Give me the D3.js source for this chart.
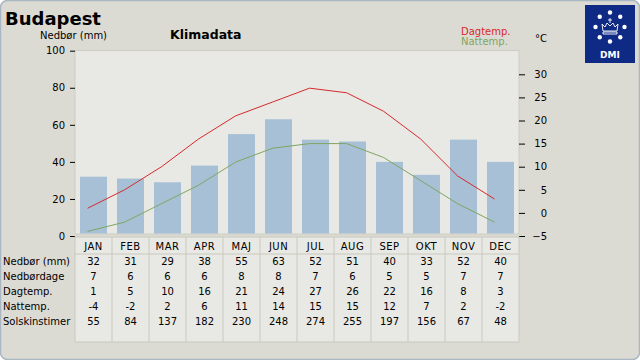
<!DOCTYPE html>
<html><head><meta charset="utf-8">
<script src="https://cdn.jsdelivr.net/npm/d3@7"></script>
<style>
html,body{margin:0;padding:0;background:#fff;}
svg{display:block;font-family:"DejaVu Sans",sans-serif;}
</style></head>
<body>
<script>
const months = ["JAN","FEB","MAR","APR","MAJ","JUN","JUL","AUG","SEP","OKT","NOV","DEC"];
const precip = [32,31,29,38,55,63,52,51,40,33,52,40];
const rainDays = [7,6,6,6,8,8,7,6,5,5,7,7];
const dayTemp = [1,5,10,16,21,24,27,26,22,16,8,3];
const nightTemp = [-4,-2,2,6,11,14,15,15,12,7,2,-2];
const sunHours = [55,84,137,182,230,248,274,255,197,156,67,48];
const leftTicks = [0,20,40,60,80,100];
const rightTicks = [-5,0,5,10,15,20,25,30];
const rowLabels = ["Nedbør (mm)","Nedbørdage","Dagtemp.","Nattemp.","Solskinstimer"];
const rows = [precip, rainDays, dayTemp, nightTemp, sunHours];

const W=640,H=360;
const svg = d3.select("body").append("svg").attr("width",W).attr("height",H);

// frame
svg.append("rect").attr("x",0.5).attr("y",0.5).attr("width",W-1).attr("height",H-1)
  .attr("rx",7).attr("fill","#dcdbd3").attr("stroke","#a9b6c3").attr("stroke-width",1.5);

const L=75,R=519,T=50.5,B=234;
const col = d3.scaleBand().domain(months).range([L,R]).padding(0);
const xb = d3.scaleBand().domain(months).range([L,R]).paddingInner(10/37).paddingOuter(5/37);
const yL = d3.scaleLinear().domain([0,100]).range([236,50.7]);
const yR = d3.scaleLinear().domain([-5,30]).range([236,74.3]);

// plot bg
svg.append("rect").attr("x",L).attr("y",T).attr("width",R-L).attr("height",B-T)
  .attr("fill","#e8e9e4").attr("stroke","#cdcdc4").attr("stroke-width",1);
svg.append("clipPath").attr("id","clip").append("rect")
  .attr("x",L).attr("y",T).attr("width",R-L).attr("height",B-T-0.5);

const g = svg.append("g").attr("clip-path","url(#clip)");
g.selectAll("rect.bar").data(months).join("rect").attr("class","bar")
  .attr("x",d=>xb(d)).attr("width",xb.bandwidth())
  .attr("y",(d,i)=>yL(precip[i])).attr("height",(d,i)=>yL(0)-yL(precip[i]))
  .attr("fill","#a8c0d5");

const lx = d=>col(d)+col.bandwidth()*0.34;
const line = (arr)=>d3.line().x((d,i)=>lx(months[i])).y(d=>yR(d))(arr);
g.append("path").attr("d",line(dayTemp)).attr("fill","none").attr("stroke","#d6292c").attr("stroke-width",1);
g.append("path").attr("d",line(nightTemp)).attr("fill","none").attr("stroke","#7ea563").attr("stroke-width",1);

// axes
const axL = svg.append("g").attr("transform",`translate(${L},0)`)
  .call(d3.axisLeft(yL).tickValues(leftTicks).tickSize(5).tickPadding(5));
const axR = svg.append("g").attr("transform",`translate(${R},0)`)
  .call(d3.axisRight(yR).tickValues(rightTicks).tickSize(6).tickPadding(5));
[axL,axR].forEach(a=>{
  a.select(".domain").remove();
  a.selectAll("line").attr("stroke","#000");
  a.selectAll("text").attr("font-size",10).attr("font-family","DejaVu Sans").attr("fill","#000");
});
axR.selectAll("text").attr("text-anchor","end").attr("x",28);

// table
const tT=237,tB=342,hB=254;
svg.append("rect").attr("x",L).attr("y",tT).attr("width",R-L).attr("height",tB-tT)
  .attr("fill","#e8e9e4").attr("stroke","#c9c9bf");
svg.append("line").attr("x1",L).attr("x2",R).attr("y1",hB).attr("y2",hB).attr("stroke","#c9c9bf");
svg.selectAll("line.vsep").data(months.slice(1)).join("line").attr("class","vsep")
  .attr("x1",d=>col(d)).attr("x2",d=>col(d)).attr("y1",tT).attr("y2",tB).attr("stroke","#c9c9bf");
svg.selectAll("text.mon").data(months).join("text").attr("class","mon")
  .attr("x",d=>col(d)+col.bandwidth()/2).attr("y",250).attr("text-anchor","middle")
  .attr("font-size",10).attr("letter-spacing",0.5).text(d=>d);
rows.forEach((r,ri)=>{
  const y = 265+ri*15;
  svg.append("text").attr("x",3).attr("y",y).attr("font-size",10).text(rowLabels[ri]);
  svg.selectAll(null).data(r).join("text")
    .attr("x",(d,i)=>col(months[i])+col.bandwidth()/2).attr("y",y)
    .attr("text-anchor","middle").attr("font-size",10).text(d=>d);
});

// titles
svg.append("text").attr("x",5).attr("y",25).attr("font-size",18).attr("font-weight","bold").text("Budapest");
svg.append("text").attr("x",40).attr("y",39).attr("font-size",10).text("Nedbør (mm)");
svg.append("text").attr("x",170).attr("y",39).attr("font-size",12.5).attr("font-weight","bold").text("Klimadata");
svg.append("text").attr("x",461).attr("y",35).attr("font-size",10).attr("fill","#d6292c").text("Dagtemp.");
svg.append("text").attr("x",461).attr("y",45).attr("font-size",10).attr("fill","#7ea563").text("Nattemp.");
svg.append("text").attr("x",535).attr("y",42).attr("font-size",10).text("°C");

// DMI logo
const lg = svg.append("g");
lg.append("rect").attr("x",585).attr("y",5).attr("width",50).attr("height",58).attr("fill","#0f2a85");
d3.range(8).forEach(k=>{
  const a = k*Math.PI/4;
  lg.append("circle").attr("cx",610+14.5*Math.sin(a)).attr("cy",27-14.5*Math.cos(a)).attr("r",2.2).attr("fill","#fff");
});
lg.append("path").attr("d","M603,31 L602,24 L605,27 L607,23 L610,26 L613,23 L615,27 L618,24 L617,31 Z M603,32 L617,32 L617,34 L603,34 Z")
  .attr("fill","none").attr("stroke","#fff").attr("stroke-width",0.9);
lg.append("path").attr("d","M610,18 L610,23 M608,20 L612,20").attr("stroke","#fff").attr("stroke-width",0.9);
lg.append("text").attr("x",610).attr("y",58).attr("text-anchor","middle").attr("font-size",9)
  .attr("font-weight","bold").attr("fill","#fff").text("DMI");
</script>
</body></html>
